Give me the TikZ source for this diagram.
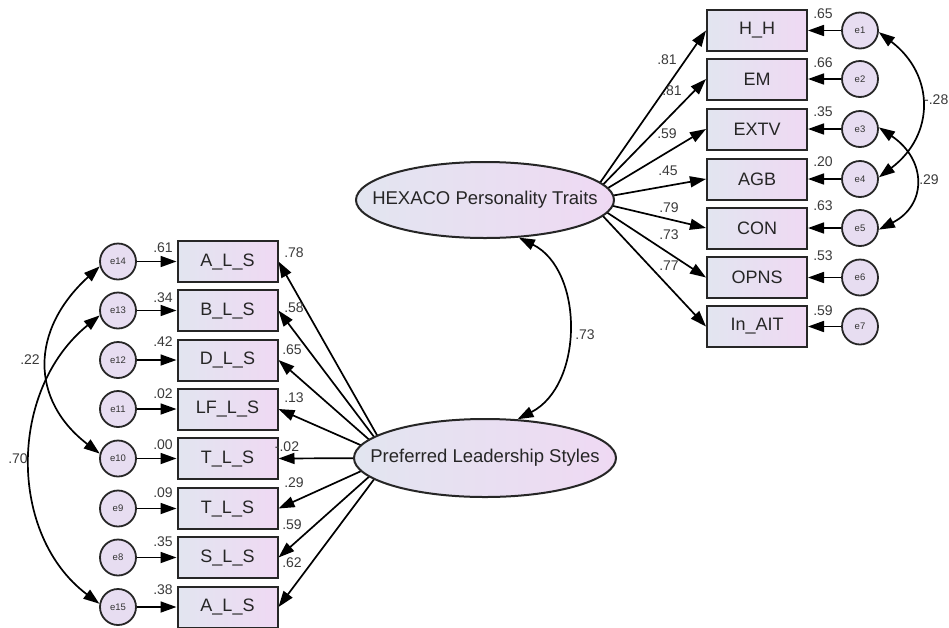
\documentclass[tikz,border=0pt]{standalone}
\usepackage{fontspec}
\setmainfont{Liberation Sans}
\usetikzlibrary{arrows.meta,shapes.geometric,backgrounds}
\definecolor{lc}{HTML}{E2E5F0}
\definecolor{rc}{HTML}{EFD9F3}
\definecolor{cf}{HTML}{E7DDF1}
\definecolor{bd}{HTML}{262626}
\definecolor{tx}{HTML}{3A3A3A}
\tikzset{
 obs/.style={draw=bd, line width=2pt, rectangle, minimum width=100pt, minimum height=41pt, inner sep=0pt, left color=lc, right color=rc, font=\fontsize{18}{20}\selectfont, text=black!85},
 err/.style={draw=bd, line width=1.8pt, circle, minimum size=36pt, inner sep=0pt, fill=cf, font=\fontsize{9.5}{10}\selectfont, text=black!80},
 lat/.style={draw=bd, line width=2pt, ellipse, minimum width=258pt, minimum height=76pt, inner sep=0pt, left color=lc, right color=rc},
 lattext/.style={font=\fontsize{18.5}{20}\selectfont, text=black!85, inner sep=0pt},
 val/.style={font=\fontsize{14}{15}\selectfont, text=tx, inner sep=0pt},
 reg/.style={line width=1.7pt, -{Triangle[length=16pt,width=11pt]}},
 cov/.style={line width=1.7pt, {Triangle[length=16pt,width=11pt]}-{Triangle[length=16pt,width=11pt]}},
}
\begin{document}
\begin{tikzpicture}[x=1pt,y=-1pt]
\useasboundingbox (0,0) rectangle (949,627);

% right observed variables
\node[obs] (hh)   at (757,30.5)  {H\_H};
\node[obs] (em)   at (757,79)    {EM};
\node[obs] (extv) at (757,129)   {EXTV};
\node[obs] (agb)  at (757,179)   {AGB};
\node[obs] (con)  at (757,228)   {CON};
\node[obs] (opns) at (757,277.5) {OPNS};
\node[obs] (inait) at (757,326.5) {In\_AIT};

% right errors
\node[err] (e1) at (860,30.5)  {e1};
\node[err] (e2) at (860,79)    {e2};
\node[err] (e3) at (860,129)   {e3};
\node[err] (e4) at (860,179)   {e4};
\node[err] (e5) at (860,228)   {e5};
\node[err] (e6) at (860,277.5) {e6};
\node[err] (e7) at (860,326.5) {e7};

% left observed variables
\node[obs] (als1) at (227.5,261.5) {A\_L\_S};
\node[obs] (bls)  at (227.5,310.5) {B\_L\_S};
\node[obs] (dls)  at (227.5,360)   {D\_L\_S};
\node[obs] (lfls) at (227.5,409)   {LF\_L\_S};
\node[obs] (tls1) at (227.5,458.5) {T\_L\_S};
\node[obs] (tls2) at (227.5,508.5) {T\_L\_S};
\node[obs] (sls)  at (227.5,557.5) {S\_L\_S};
\node[obs] (als2) at (227.5,607)   {A\_L\_S};

% left errors
\node[err] (e14) at (118,261.5) {e14};
\node[err] (e13) at (118,310.5) {e13};
\node[err] (e12) at (118,360)   {e12};
\node[err] (e11) at (118,409)   {e11};
\node[err] (e10) at (118,458.5) {e10};
\node[err] (e9)  at (118,508.5) {e9};
\node[err] (e8)  at (118,557.5) {e8};
\node[err] (e15) at (118,607)   {e15};

% latent variables
\node[lat] (hex) at (485,200) {};
\node[lattext] (hext) at (hex.center) {HEXACO Personality Traits};
\node[lat, minimum width=262pt, minimum height=78pt] (pls) at (485,458) {};
\node[lattext] (plst) at (pls.center) {Preferred Leadership Styles};

\coordinate (hexsrc) at (588,200);
\coordinate (plssrc) at (390,458);

\begin{scope}[on background layer]
\foreach \b in {hh,em,extv,agb,con,opns,inait}
  \draw[reg] (hexsrc) -- (\b.west);
\foreach \b in {als1,bls,dls,lfls,tls1,tls2,sls,als2}
  \draw[reg] (plssrc) -- (\b.east);
\end{scope}

% error paths
\draw[reg] (e1) -- (hh);
\draw[reg] (e2) -- (em);
\draw[reg] (e3) -- (extv);
\draw[reg] (e4) -- (agb);
\draw[reg] (e5) -- (con);
\draw[reg] (e6) -- (opns);
\draw[reg] (e7) -- (inait);
\draw[reg] (e14) -- (als1);
\draw[reg] (e13) -- (bls);
\draw[reg] (e12) -- (dls);
\draw[reg] (e11) -- (lfls);
\draw[reg] (e10) -- (tls1);
\draw[reg] (e9) -- (tls2);
\draw[reg] (e8) -- (sls);
\draw[reg] (e15) -- (als2);

% covariances
\draw[cov] (e14.195) .. controls (30,330) and (30,400) .. (e10.165);
\draw[cov] (e13.195) .. controls (8,390) and (8,535) .. (e15.170);
\draw[cov] (e1.-5) .. controls (935,75) and (935,135) .. (e4.5);
\draw[cov] (e3.5) .. controls (927,160) and (927,205) .. (e5.-5);
\draw[cov] (hex.-48) .. controls (584,270) and (584,385) .. (pls.50);

% loadings HEXACO
\node[val] (v1) at (667,60)  {.81};
\node[val] (v2) at (672,91)  {.81};
\node[val] (v3) at (667,134) {.59};
\node[val] (v4) at (668,171) {.45};
\node[val] (v5) at (669,208) {.79};
\node[val] (v6) at (669,235) {.73};
\node[val] (v7) at (669,266) {.77};
% squared multiple correlations right
\node[val] (r1) at (823,14)  {.65};
\node[val] (r2) at (823,63)  {.66};
\node[val] (r3) at (823,112) {.35};
\node[val] (r4) at (823,162) {.20};
\node[val] (r5) at (823,206) {.63};
\node[val] (r6) at (823,256) {.53};
\node[val] (r7) at (823,311) {.59};
% left smc
\node[val] (s1) at (163,248) {.61};
\node[val] (s2) at (163,298) {.34};
\node[val] (s3) at (163,342) {.42};
\node[val] (s4) at (163,394) {.02};
\node[val] (s5) at (163,445) {.00};
\node[val] (s6) at (163,493) {.09};
\node[val] (s7) at (163,542) {.35};
\node[val] (s8) at (163,590) {.38};
% left loadings
\node[val] (w1) at (294,253) {.78};
\node[val] (w2) at (294,308) {.58};
\node[val] (w3) at (292,350) {.65};
\node[val] (w4) at (294,398) {.13};
\node[val] (w5) at (287,447) {-.02};
\node[val] (w6) at (294,483) {.29};
\node[val] (w7) at (292,525) {.59};
\node[val] (w8) at (292,563) {.62};
% covariance labels
\node[val] (c1) at (30,360)  {.22};
\node[val] (c2) at (18,459)  {.70};
\node[val] (c3) at (585,335) {.73};
\node[val, anchor=east] (c4) at (948.5,100) {-.28};
\node[val] (c5) at (929,180) {.29};
\end{tikzpicture}
\end{document}
